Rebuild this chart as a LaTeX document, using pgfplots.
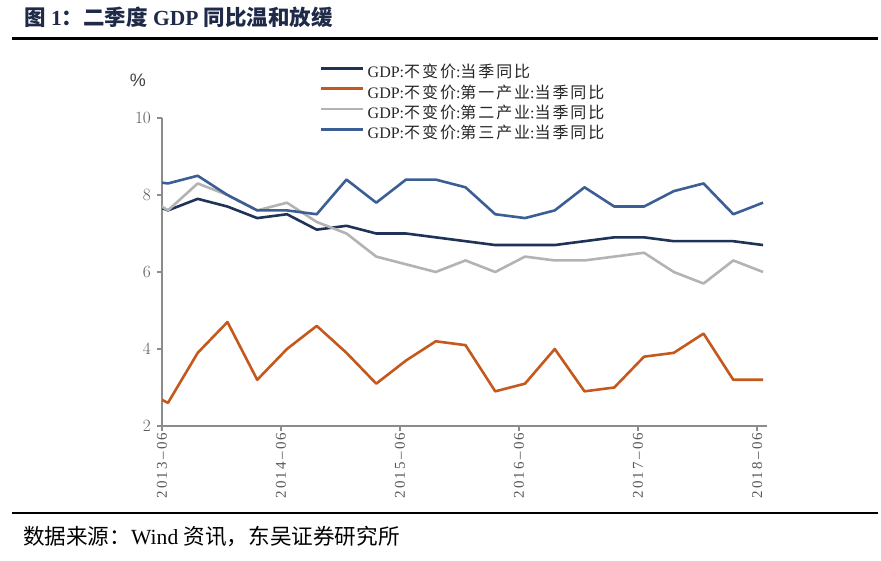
\documentclass[border=0pt]{standalone}
\usepackage{fontspec}
\usepackage{pgfplots}
\usepackage{pgfplotstable}
\pgfplotsset{compat=1.18}
\setmainfont{Liberation Serif}
\newfontfamily\cjk{Noto Sans CJK SC}
\newfontfamily\cjkl[LetterSpace=12]{Noto Sans CJK SC}
\newfontfamily\sansf{Liberation Sans}
\newfontfamily\xfont[LetterSpace=15]{Liberation Serif}
\definecolor{navy}{HTML}{1F3358}
\definecolor{orng}{HTML}{C5581C}
\definecolor{lgray}{HTML}{B3B3B3}
\definecolor{sblue}{HTML}{3B5E95}
\definecolor{axgray}{HTML}{8C8C8C}
\definecolor{txgray}{HTML}{595959}
\definecolor{ttl}{HTML}{1E2A48}

\pgfplotstableread{
m gdp pri sec ter
-2.4 7.9 3.0 8.1 8.4
0.6 7.6 2.6 7.6 8.3
3.6 7.9 3.9 8.3 8.5
6.6 7.7 4.7 8.0 8.0
9.6 7.4 3.2 7.6 7.6
12.6 7.5 4.0 7.8 7.6
15.6 7.1 4.6 7.3 7.5
18.6 7.2 3.9 7.0 8.4
21.6 7.0 3.1 6.4 7.8
24.6 7.0 3.7 6.2 8.4
27.6 6.9 4.2 6.0 8.4
30.6 6.8 4.1 6.3 8.2
33.6 6.7 2.9 6.0 7.5
36.6 6.7 3.1 6.4 7.4
39.6 6.7 4.0 6.3 7.6
42.6 6.8 2.9 6.3 8.2
45.6 6.9 3.0 6.4 7.7
48.6 6.9 3.8 6.5 7.7
51.6 6.8 3.9 6.0 8.1
54.6 6.8 4.4 5.7 8.3
57.6 6.8 3.2 6.3 7.5
60.6 6.7 3.2 6.0 7.8
}\data

\begin{document}
\begin{tikzpicture}[x=1bp,y=1bp]
\useasboundingbox (0,0) rectangle (881,561);
% title
\node[anchor=base west, inner sep=0pt, text=ttl, font=\fontsize{21.5bp}{25bp}\selectfont\bfseries] at (24,535.5)
  {{\cjk 图} 1{\cjk ：二季度} GDP {\cjk 同比温和放缓}};
\draw[line width=3bp, black] (12,522.5) -- (878,522.5);
% source
\draw[line width=1.8bp, black] (12,48) -- (878,48);
\node[anchor=base west, inner sep=0pt, font=\fontsize{21.6bp}{25bp}\selectfont] at (23,16)
  {{\cjk 数据来源：}Wind {\cjk 资讯，东吴证券研究所}};
% percent label
\node[font=\sansf\fontsize{18bp}{18bp}\selectfont, text=black!75] at (138,480.5) {\%};

\begin{axis}[
  at={(162bp,135bp)}, anchor=south west,
  scale only axis, width=605bp, height=308bp,
  xmin=0, xmax=61, ymin=2, ymax=10,
  axis x line*=bottom, axis y line*=left,
  axis line style={axgray, line width=1.3bp},
  major tick style={axgray, line width=1.3bp},
  tick align=outside, major tick length=5bp,
  xtick={0,12,24,36,48,60},
  xticklabels={2013–06,2014–06,2015–06,2016–06,2017–06,2018–06},
  xticklabel style={rotate=90, anchor=east, inner sep=1.5bp, text=txgray,
     font=\xfont\fontsize{15bp}{15bp}\selectfont},
  ytick={2,4,6,8,10},
  yticklabel style={text=txgray, inner sep=6bp, font=\fontsize{16bp}{16bp}\selectfont},
  legend style={at={(0.261,1.172)}, anchor=north west, draw=none, fill=none,
     inner sep=0pt, row sep=4.3bp, column sep=3bp,
     font=\fontsize{16bp}{16bp}\selectfont, text=black!85,
     nodes={inner sep=0pt, text height=12.5bp, text depth=3.5bp}},
  legend cell align=left,
  legend image code/.code={\draw[#1, line width=2.6bp] (0bp,4.8bp) -- (42bp,4.8bp);},
]
\addplot[navy, no marks, line width=2.6bp, line join=round] table[x=m, y=gdp] {\data};
\addlegendentry{GDP:{\cjkl 不变价}:{\cjkl 当季同比}}
\addplot[orng, no marks, line width=2.6bp, line join=round] table[x=m, y=pri] {\data};
\addlegendentry{GDP:{\cjkl 不变价}:{\cjkl 第一产业}:{\cjkl 当季同比}}
\addplot[lgray, no marks, line width=2.6bp, line join=round] table[x=m, y=sec] {\data};
\addlegendentry{GDP:{\cjkl 不变价}:{\cjkl 第二产业}:{\cjkl 当季同比}}
\addplot[sblue, no marks, line width=2.6bp, line join=round] table[x=m, y=ter] {\data};
\addlegendentry{GDP:{\cjkl 不变价}:{\cjkl 第三产业}:{\cjkl 当季同比}}
\end{axis}
\end{tikzpicture}
\end{document}
